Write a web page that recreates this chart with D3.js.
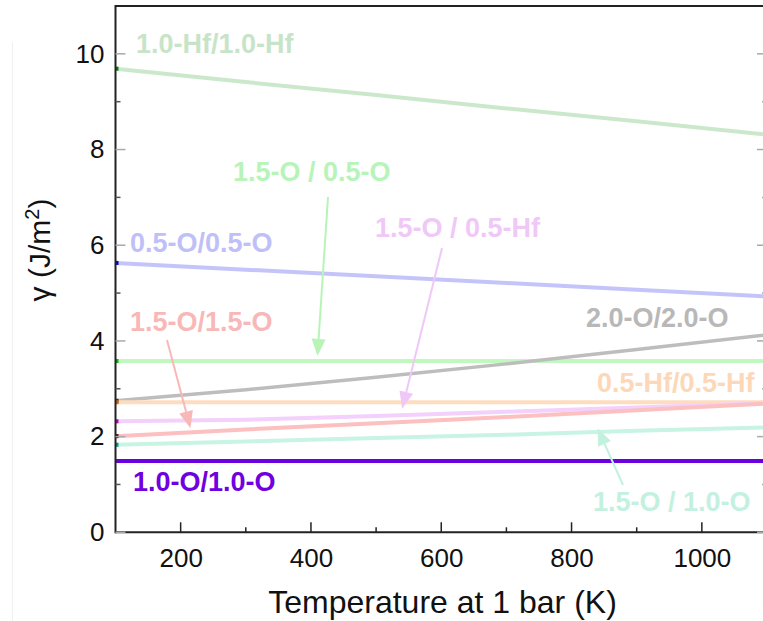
<!DOCTYPE html>
<html><head><meta charset="utf-8">
<script src="https://cdn.jsdelivr.net/npm/d3@7"></script>
<style>body{margin:0;background:#fff}svg{display:block}text{font-family:"Liberation Sans",Arial,sans-serif}</style>
</head><body>
<script>
// ---- data ----
const temps = [100, 300, 500, 700, 900, 1100];
const seriesNames = ["1.0-Hf/1.0-Hf","0.5-O/0.5-O","1.5-O / 0.5-O","2.0-O/2.0-O","0.5-Hf/0.5-Hf","1.5-O / 0.5-Hf","1.5-O/1.5-O","1.5-O / 1.0-O","1.0-O/1.0-O"];
const hf10_hf10 = [9.69, 9.41, 9.14, 8.86, 8.59, 8.31];
const o05_o05   = [5.63, 5.49, 5.35, 5.21, 5.07, 4.93];
const o15_o05   = [3.58, 3.58, 3.58, 3.58, 3.58, 3.58];
const o20_o20   = [2.75, 2.98, 3.24, 3.52, 3.82, 4.13];
const hf05_hf05 = [2.72, 2.72, 2.72, 2.72, 2.72, 2.72];
const o15_hf05  = [2.32, 2.35, 2.43, 2.52, 2.61, 2.70];
const o15_o15   = [2.01, 2.15, 2.28, 2.41, 2.55, 2.69];
const o15_o10   = [1.83, 1.90, 1.97, 2.04, 2.12, 2.19];
const o10_o10   = [1.49, 1.49, 1.49, 1.49, 1.49, 1.49];
const seriesValues = [hf10_hf10, o05_o05, o15_o05, o20_o20, hf05_hf05, o15_hf05, o15_o15, o15_o10, o10_o10];
const xTicks = [200, 400, 600, 800, 1000];
const yTicks = [0, 2, 4, 6, 8, 10];

// ---- styles ----
const lineColors = ["#cce8cc","#c4c4fa","#c0f8c0","#bdbdbd","#fddcc0","#f4d0fc","#fcc0c0","#c8f4e4","#6a00e0"];
const endColors  = ["#008000","#0000e0","#00c000","#333","#e06000","#c000c0","#600000","#00a080",null];
const labelColors= ["#c8e4c8","#c0c0f8","#b8f4b8","#b8b8b8","#fcd8b8","#f0c8f8","#f8b8b8","#c4f0e0","#7000e0"];
const labelPos = [[136,53],[130,252],[233,181],[586,327],[597,392],[375,237],[130,331],[593,511],[133,491]];
// arrows: [series index, x0, y0, x1(T), y1(value)]
const arrows = [[2, 328,197, 410, 3.58],[5, 442,248, 540, 2.48],[6, 167,340, 215, 2.07],[7, 623,485, 840, 2.07]];

const W = 763, H = 621;
const svg = d3.select("body").append("svg").attr("width", W).attr("height", H);
const x = d3.scaleLinear().domain([100, 1100]).range([115.5, 767]);
const y = d3.scaleLinear().domain([0, 11]).range([532.3, 6]);

// faint border artifact
svg.append("line").attr("x1",12.5).attr("x2",12.5).attr("y1",42).attr("y2",H).attr("stroke","#f0f0f0").attr("stroke-width",1);

svg.append("defs").append("clipPath").attr("id","clip").append("rect")
  .attr("x", x(100)).attr("y", y(11)).attr("width", x(1100)-x(100)).attr("height", y(0)-y(11));

// labels
seriesNames.forEach((n,i)=>{
  svg.append("text").attr("x",labelPos[i][0]).attr("y",labelPos[i][1])
    .attr("font-size",27).attr("font-weight","bold").attr("fill",labelColors[i]).text(n);
});

// lines
const line = d3.line().x((d,j)=>x(temps[j])).y(d=>y(d));
const g = svg.append("g").attr("clip-path","url(#clip)");
seriesValues.forEach((vals,i)=>{
  g.append("path").datum(vals).attr("d",line).attr("fill","none")
    .attr("stroke",lineColors[i]).attr("stroke-width", i===3?3.5:4);
});
// dark end markers at left axis
seriesValues.forEach((vals,i)=>{
  if(!endColors[i]) return;
  svg.append("rect").attr("x",x(100)).attr("y",y(vals[0])-2).attr("width",3).attr("height",4).attr("fill",endColors[i]);
});

// arrows
arrows.forEach(([i,x0,y0,t1,v1])=>{
  const c = labelColors[i];
  const x1 = x(t1), y1 = y(v1) - 5;
  const ang = Math.atan2(y1-y0, x1-x0);
  const L = 17, Wd = 7;
  const bx = x1 - L*Math.cos(ang), by = y1 - L*Math.sin(ang);
  svg.append("line").attr("x1",x0).attr("y1",y0).attr("x2",bx).attr("y2",by).attr("stroke",c).attr("stroke-width",2);
  const px = -Math.sin(ang)*Wd, py = Math.cos(ang)*Wd;
  svg.append("path").attr("d",`M${x1},${y1}L${bx+px},${by+py}L${bx-px},${by-py}Z`).attr("fill",c);
});

// frame
svg.append("line").attr("x1",x(100)).attr("x2",W).attr("y1",y(11)).attr("y2",y(11)).attr("stroke","#222").attr("stroke-width",2);
svg.append("line").attr("x1",x(100)).attr("x2",x(100)).attr("y1",y(11)-1).attr("y2",y(0)+1).attr("stroke","#222").attr("stroke-width",2);
svg.append("line").attr("x1",x(100)).attr("x2",W).attr("y1",y(0)).attr("y2",y(0)).attr("stroke","#222").attr("stroke-width",2);

// bottom axis
const xAxis = d3.axisBottom(x).tickValues(xTicks).tickFormat(d3.format("d")).tickSize(0).tickPadding(16);
const gx = svg.append("g").attr("transform",`translate(0,${y(0)})`).call(xAxis);
gx.select(".domain").remove();
gx.selectAll("text").attr("font-size",26).attr("fill","#111").style("font-family","Liberation Sans, Arial, sans-serif");
xTicks.forEach(t=>svg.append("line").attr("x1",x(t)).attr("x2",x(t)).attr("y1",y(0)).attr("y2",y(0)-10).attr("stroke","#222").attr("stroke-width",1.5));
[300,500,700,900].forEach(t=>svg.append("line").attr("x1",x(t)).attr("x2",x(t)).attr("y1",y(0)).attr("y2",y(0)-5).attr("stroke","#222").attr("stroke-width",1.5));

// left axis
const yAxis = d3.axisLeft(y).tickValues(yTicks).tickFormat(d3.format("d")).tickSize(0).tickPadding(11);
const gy = svg.append("g").attr("transform",`translate(${x(100)},0)`).call(yAxis);
gy.select(".domain").remove();
gy.selectAll("text").attr("font-size",26).attr("fill","#111").style("font-family","Liberation Sans, Arial, sans-serif");
yTicks.forEach(v=>{
  svg.append("line").attr("x1",x(100)).attr("x2",x(100)+10).attr("y1",y(v)).attr("y2",y(v)).attr("stroke","#aaa").attr("stroke-width",1.5);
  svg.append("line").attr("x1",x(1100)).attr("x2",x(1100)-10).attr("y1",y(v)).attr("y2",y(v)).attr("stroke","#aaa").attr("stroke-width",1.5);
});
[1,3,5,7,9].forEach(v=>{
  svg.append("line").attr("x1",x(100)).attr("x2",x(100)+5).attr("y1",y(v)).attr("y2",y(v)).attr("stroke","#555").attr("stroke-width",1.5);
  svg.append("line").attr("x1",x(1100)).attr("x2",x(1100)-5).attr("y1",y(v)).attr("y2",y(v)).attr("stroke","#aaa").attr("stroke-width",1.5);
});

// axis titles
svg.append("text").attr("x",(267+618)/2).attr("y",613).attr("text-anchor","middle").attr("font-size",32).attr("fill","#111").text("Temperature at 1 bar (K)");
const yt = svg.append("text").attr("transform","translate(50,250) rotate(-90)").attr("text-anchor","middle").attr("font-size",30).attr("fill","#111");
yt.append("tspan").text("γ (J/m");
yt.append("tspan").attr("font-size",20).attr("dy",-11).text("2");
yt.append("tspan").attr("dy",11).text(")");
</script>
</body></html>
